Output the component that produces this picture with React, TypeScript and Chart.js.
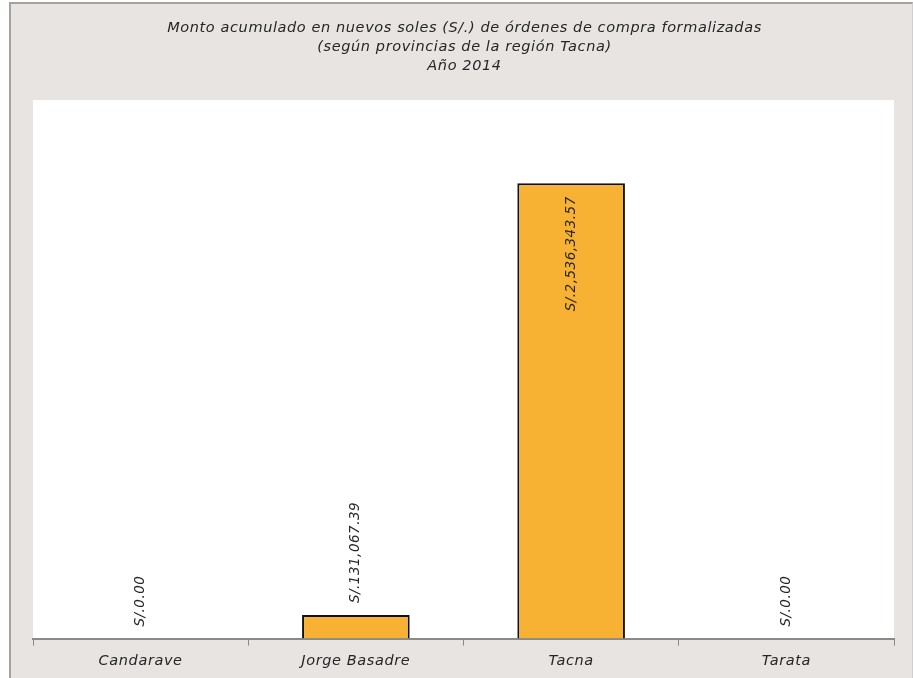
import React, { useEffect, useRef } from "react";
import { Chart, registerables } from "chart.js";

Chart.register(...registerables);

const TITLE_LINES = [
  "Monto acumulado en nuevos soles (S/.) de órdenes de compra formalizadas",
  "(según provincias de la región Tacna)",
  "Año 2014",
];
const PROVINCES = ["Candarave", "Jorge Basadre", "Tacna", "Tarata"];
const AMOUNTS = [0, 131067.39, 2536343.57, 0];
const Y_MAX = 3000000;

const FONT = "'DejaVu Sans', sans-serif";
const TEXT_COLOR = "#262626";

function fmt(v: number): string {
  return (
    "S/." +
    v.toLocaleString("en-US", { minimumFractionDigits: 2, maximumFractionDigits: 2 })
  );
}

const plotBgPlugin = {
  id: "plotBg",
  beforeDraw(chart: any) {
    const { ctx, chartArea } = chart;
    ctx.save();
    ctx.fillStyle = "#ffffff";
    ctx.fillRect(chartArea.left, chartArea.top, chartArea.right - chartArea.left, chartArea.bottom - chartArea.top);
    ctx.restore();
    (ctx as any).letterSpacing = "0.6px";
  },
};

const titlePlugin = {
  id: "customTitle",
  afterDraw(chart: any) {
    const { ctx, chartArea } = chart;
    const cx = (chartArea.left + chartArea.right) / 2;
    ctx.save();
    (ctx as any).letterSpacing = "0.6px";
    ctx.fillStyle = TEXT_COLOR;
    ctx.font = `italic 14.5px ${FONT}`;
    ctx.textAlign = "center";
    ctx.textBaseline = "middle";
    TITLE_LINES.forEach((line, i) => {
      ctx.fillText(line, cx + 1, 24 + i * 19);
    });
    ctx.restore();
  },
};

const labelPlugin = {
  id: "barLabels",
  afterDatasetsDraw(chart: any) {
    const { ctx } = chart;
    const meta = chart.getDatasetMeta(0);
    ctx.save();
    (ctx as any).letterSpacing = "0.5px";
    ctx.fillStyle = TEXT_COLOR;
    ctx.font = `italic 13.5px ${FONT}`;
    ctx.textBaseline = "middle";
    meta.data.forEach((bar: any, i: number) => {
      const text = fmt(AMOUNTS[i]);
      const w = ctx.measureText(text).width;
      const h = bar.base - bar.y;
      ctx.save();
      if (h > w + 30) {
        ctx.translate(bar.x, bar.y + 13);
        ctx.rotate(-Math.PI / 2);
        ctx.textAlign = "right";
      } else {
        ctx.translate(bar.x, bar.y - 12);
        ctx.rotate(-Math.PI / 2);
        ctx.textAlign = "left";
      }
      ctx.fillText(text, 0, 0);
      ctx.restore();
    });
    ctx.restore();
  },
};

export default function App() {
  const ref = useRef<HTMLCanvasElement>(null);
  useEffect(() => {
    if (!ref.current) return;
    const chart = new Chart(ref.current, {
      type: "bar",
      data: {
        labels: PROVINCES,
        datasets: [
          {
            data: AMOUNTS,
            backgroundColor: "#f7b133",
            borderColor: "#111111",
            borderWidth: 2,
            categoryPercentage: 1,
            barPercentage: 0.5,
          },
        ],
      },
      options: {
        responsive: false,
        animation: false,
        layout: { padding: { left: 22, right: 18, top: 96, bottom: 3 } },
        plugins: {
          legend: { display: false },
          title: { display: false },
          tooltip: { enabled: false },
        },
        scales: {
          x: {
            grid: {
              offset: true,
              drawOnChartArea: false,
              drawTicks: true,
              tickLength: 7,
              color: "#8a8a8a",
            },
            border: { display: true, color: "#8a8a8a", width: 2 },
            ticks: {
              color: TEXT_COLOR,
              font: { family: FONT, size: 14.5, style: "italic" },
              padding: 7,
            },
          },
          y: {
            display: false,
            min: 0,
            max: Y_MAX,
          },
        },
      },
      plugins: [plotBgPlugin, titlePlugin, labelPlugin],
    });
    return () => chart.destroy();
  }, []);

  return (
    <div
      style={{
        position: "absolute",
        left: 9,
        top: 2,
        width: 901,
        height: 676,
        background: "#e8e4e1",
        borderLeft: "2px solid #a3a3a3",
        borderTop: "2px solid #a3a3a3",
        borderRight: "1px solid #cfcfcf",
        overflow: "hidden",
      }}
    >
      <canvas ref={ref} width={901} height={676} style={{ display: "block" }} />
    </div>
  );
}
